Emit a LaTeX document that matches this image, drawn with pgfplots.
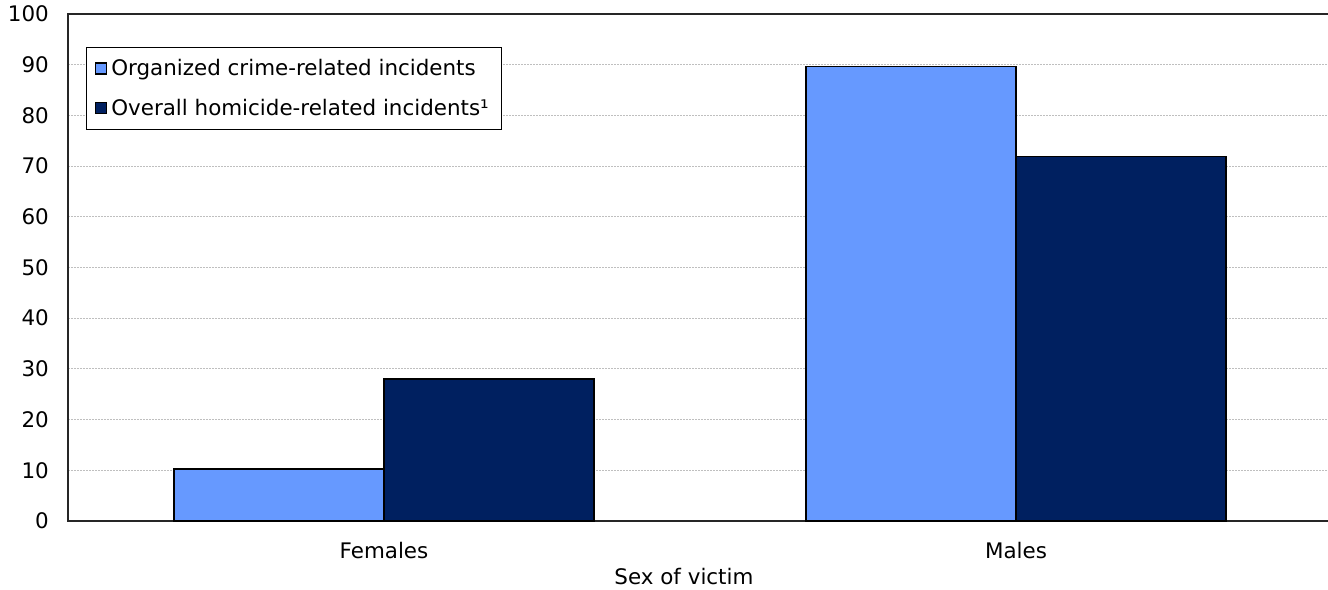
\documentclass[border=0pt]{standalone}
\usepackage{pgfplots}
\pgfplotsset{compat=1.18}
\usepackage{fontspec}
\setmainfont{DejaVu Sans}
\definecolor{lightbar}{HTML}{6699FF}
\definecolor{darkbar}{HTML}{002060}
\begin{document}
\begin{tikzpicture}[font=\fontsize{21.5}{25}\selectfont]
\begin{axis}[
  at={(0,0)}, anchor=south west,
  scale only axis,
  width=1264bp, height=507bp,
  ybar=0pt, bar width=210bp,
  xmin=-0.5, xmax=1.5,
  ymin=0, ymax=100,
  xtick={0,1}, xticklabels={Females,Males},
  ytick={0,10,...,100},
  major tick length=0pt,
  /pgf/number format/assume math mode=true,
  axis line style={black!85, line width=2bp},
  ymajorgrids,
  major grid style={gray!50, line width=1bp, dash pattern=on 2bp off 1bp},
  xticklabel style={anchor=base, inner sep=0pt, yshift=-37bp},
  yticklabel style={anchor=east, inner sep=0pt, xshift=-19bp},
  xlabel={Sex of victim},
  xlabel style={at={(axis description cs:0.4873,0)}, anchor=base, inner sep=0pt, yshift=-63bp},
  legend image code/.code={\draw[#1, line width=1.2bp] (0bp,-5.5bp) rectangle (11bp,5.5bp);},
  legend cell align=left,
  legend style={at={(axis description cs:0.01424,0.9349)}, anchor=north west,
    draw=black, line width=1.3bp, fill=white,
    inner xsep=8bp, inner ysep=9bp, row sep=16bp,
    nodes={inner ysep=3bp, inner xsep=4.5bp}},
]
\addplot[fill=lightbar, draw=black, line width=1.5bp] coordinates {(0,10.3) (1,89.6)};
\addlegendentry{Organized crime-related incidents}
\addplot[fill=darkbar, draw=black, line width=1.5bp] coordinates {(0,28.0) (1,71.9)};
\addlegendentry{Overall homicide-related incidents¹}
\end{axis}
\pgfresetboundingbox
\useasboundingbox (-68bp,-69bp) rectangle (1260bp,521bp);
\end{tikzpicture}
\end{document}
